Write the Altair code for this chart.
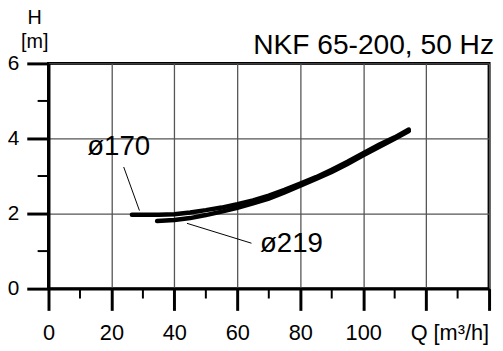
import altair as alt
import pandas as pd

# --- data -------------------------------------------------------------------
q170 = [26.5, 30, 35, 40, 45, 50, 55, 60, 65, 70, 75, 80, 85, 90, 95, 100, 105, 110, 114.5]
h170 = [1.97, 1.97, 1.97, 1.98, 2.03, 2.09, 2.16, 2.25, 2.35, 2.48, 2.63, 2.80, 2.97, 3.17, 3.38, 3.61, 3.83, 4.03, 4.24]
q219 = [34.5, 40, 45, 50, 55, 60, 65, 70, 75, 80, 85, 90, 95, 100, 105, 110, 114.5]
h219 = [1.80, 1.83, 1.88, 1.96, 2.05, 2.15, 2.27, 2.40, 2.56, 2.74, 2.92, 3.11, 3.32, 3.55, 3.77, 3.99, 4.20]

x_major = [0, 20, 40, 60, 80, 100, 120, 140]
x_minor = [10, 30, 50, 70, 90, 110, 130]
y_major = [0, 2, 4, 6]
y_minor = [1, 3, 5]

label_names = ["ø170", "ø219"]
label_q = [22.3, 77.2]
label_h = [3.76, 1.18]
leader_q1 = [23.9, 44.0]
leader_h1 = [3.24, 1.74]
leader_q2 = [28.9, 64.5]
leader_h2 = [2.08, 1.21]

title_text = "NKF 65-200, 50 Hz"
y_title_lines = ["H", "[m]"]
x_title = "Q [m³/h]"

# --- layout ------------------------------------------------------------------
W, H = 446, 228
FONT = "Liberation Sans"

xs = alt.Scale(domain=[0, 140], nice=False, zero=False)
ys = alt.Scale(domain=[0, 6], nice=False, zero=False)

curves = pd.DataFrame(
    {"q": q170 + q219, "h": h170 + h219, "d": ["170"] * len(q170) + ["219"] * len(q219)}
)

x_axis = alt.Axis(
    values=x_major, tickSize=22, tickWidth=3, tickColor="black",
    domainWidth=3, domainColor="black", grid=True, gridColor="#555555", gridWidth=1.3,
    labelExpr="datum.value <= 100 ? datum.label : ''", labelFontSize=22, labelFont=FONT,
    labelColor="black", labelPadding=12, labelFlush=False, labelOverlap=False,
)
y_axis = alt.Axis(
    values=y_major, tickSize=22, tickWidth=3, tickColor="black",
    domainWidth=3, domainColor="black", grid=True, gridColor="#555555", gridWidth=1.3,
    labelFontSize=21, labelFont=FONT, labelColor="black", labelPadding=8,
    labelFlush=False, labelOverlap=False,
)

lines = alt.Chart(curves).mark_line(color="black", strokeWidth=4.5, strokeCap="round").encode(
    x=alt.X("q:Q", scale=xs, axis=x_axis, title=None),
    y=alt.Y("h:Q", scale=ys, axis=y_axis, title=None),
    detail="d:N",
)

minor_x = alt.Chart(pd.DataFrame({"q": x_minor})).mark_rule(color="black", strokeWidth=2).encode(
    x=alt.X("q:Q", scale=xs, title=None),
    y=alt.value(H),
    y2=alt.value(H + 10),
)
minor_y = alt.Chart(pd.DataFrame({"h": y_minor})).mark_rule(color="black", strokeWidth=2).encode(
    y=alt.Y("h:Q", scale=ys, title=None),
    x=alt.value(-11),
    x2=alt.value(0),
)

labels_df = pd.DataFrame({"q": label_q, "h": label_h, "name": label_names})
labels = alt.Chart(labels_df).mark_text(
    font=FONT, fontSize=28, color="black", align="center", baseline="middle"
).encode(
    x=alt.X("q:Q", scale=xs, title=None),
    y=alt.Y("h:Q", scale=ys, title=None),
    text="name:N",
)

leaders_df = pd.DataFrame({"q": leader_q1, "h": leader_h1, "q2": leader_q2, "h2": leader_h2})
leaders = alt.Chart(leaders_df).mark_rule(color="black", strokeWidth=1).encode(
    x=alt.X("q:Q", scale=xs, title=None),
    y=alt.Y("h:Q", scale=ys, title=None),
    x2="q2:Q",
    y2="h2:Q",
)

title = alt.Chart(pd.DataFrame({"t": [title_text]})).mark_text(
    font=FONT, fontSize=28.5, color="black", align="right", baseline="alphabetic", dx=5, dy=-10
).encode(
    x=alt.datum(140, scale=xs),
    y=alt.datum(6, scale=ys),
    text="t:N",
)

ytitle = alt.Chart(pd.DataFrame({"t": [y_title_lines]})).mark_text(
    font=FONT, fontSize=20, color="black", align="center", baseline="alphabetic",
    dx=-14, dy=-40, lineHeight=24,
).encode(
    x=alt.datum(0, scale=xs),
    y=alt.datum(6, scale=ys),
    text="t",
)

xtitle = alt.Chart(pd.DataFrame({"t": [x_title]})).mark_text(
    font=FONT, fontSize=22, color="black", align="right", baseline="alphabetic", dy=52,
).encode(
    x=alt.datum(140, scale=xs),
    y=alt.datum(0, scale=ys),
    text="t:N",
)

chart = alt.layer(lines, minor_x, minor_y, leaders, labels, title, ytitle, xtitle).properties(
    width=W,
    height=H,
    autosize=alt.AutoSizeParams(type="none"),
    padding={"left": 41, "top": 54, "right": 6, "bottom": 57},
    background="white",
).configure_view(stroke="black", strokeWidth=3)

chart.save("out.html", embed_options={"renderer": "svg", "actions": False})
